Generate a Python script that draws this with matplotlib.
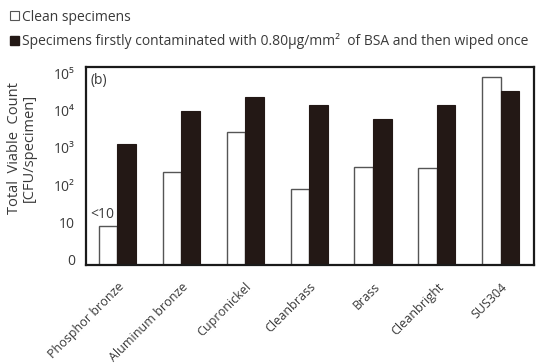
import numpy as np
import matplotlib
matplotlib.use("Agg")
import matplotlib.pyplot as plt
from matplotlib.patches import Patch

plt.rcParams["font.family"] = ["Open Sans", "DejaVu Sans"]

# datos (escala logaritmica, CFU/specimen)
materiales = ["Phosphor bronze", "Aluminum bronze", "Cupronickel", "Cleanbrass",
              "Brass", "Cleanbright", "SUS304"]
limpias = [8.3, 223, 2620, 78, 315, 296, 80900]
contaminadas = [1250, 9900, 22700, 14100, 5960, 14100, 34100]

ticks_y = [1, 10, 100, 1000, 10000, 100000]
etiquetas_y = ["0", "10", "10²", "10³", "10⁴", "10⁵"]

leyenda = ["Clean specimens",
           "Specimens firstly contaminated with 0.80μg/mm²  of BSA and then wiped once"]

negro = "#231815"
gris_texto = "#3a3a3a"

fig = plt.figure(figsize=(5.36, 3.63), dpi=100)
ax = fig.add_axes([0.1604, 0.27, 0.836, 0.5463])

x = np.arange(len(materiales))
ancho = 0.29
ax.bar(x - ancho / 2, limpias, ancho, color="white", edgecolor="#555555", linewidth=1.0)
ax.bar(x + ancho / 2, contaminadas, ancho, color=negro, edgecolor=negro, linewidth=0.8)

ax.set_yscale("log")
ax.set_ylim(0.73, 1.5e5)
ax.set_xlim(-0.49, 6.52)
ax.set_yticks(ticks_y)
ax.set_yticklabels(etiquetas_y, fontsize=10, color=gris_texto)
ax.yaxis.set_minor_locator(matplotlib.ticker.NullLocator())
ax.tick_params(axis="both", length=0, pad=8)

ax.set_xticks(x)
ax.set_xticklabels(materiales, rotation=45, ha="right", rotation_mode="anchor",
                   fontsize=9, color=gris_texto)
ax.tick_params(axis="x", pad=11)

for lado in ax.spines.values():
    lado.set_linewidth(1.6)
    lado.set_color("#1a1a1a")

ax.text(0.01, 0.97, "(b)", transform=ax.transAxes, ha="left", va="top",
        fontsize=10, color=gris_texto)
# etiqueta "<10" sobre la primera barra blanca
ax.text(-0.43, 10.2, "<10", ha="left", va="bottom", fontsize=10, color=gris_texto)

fig.text(22 / 536, 1 - 148 / 363, "Total  Viable  Count\n[CFU/specimen]", rotation=90,
         ha="center", va="center", fontsize=10.5, color=gris_texto, linespacing=0.95)

manejadores = [Patch(facecolor="white", edgecolor="#555555", linewidth=0.8),
               Patch(facecolor=negro, edgecolor=negro)]
fig.legend(manejadores, leyenda, loc="upper left", bbox_to_anchor=(0.0, 1.0),
           frameon=False, fontsize=10, handlelength=0.65, handleheight=0.65,
           handletextpad=0.25, labelspacing=0.6, borderaxespad=0.3,
           labelcolor=gris_texto)

fig.savefig("out.png", dpi=100)
